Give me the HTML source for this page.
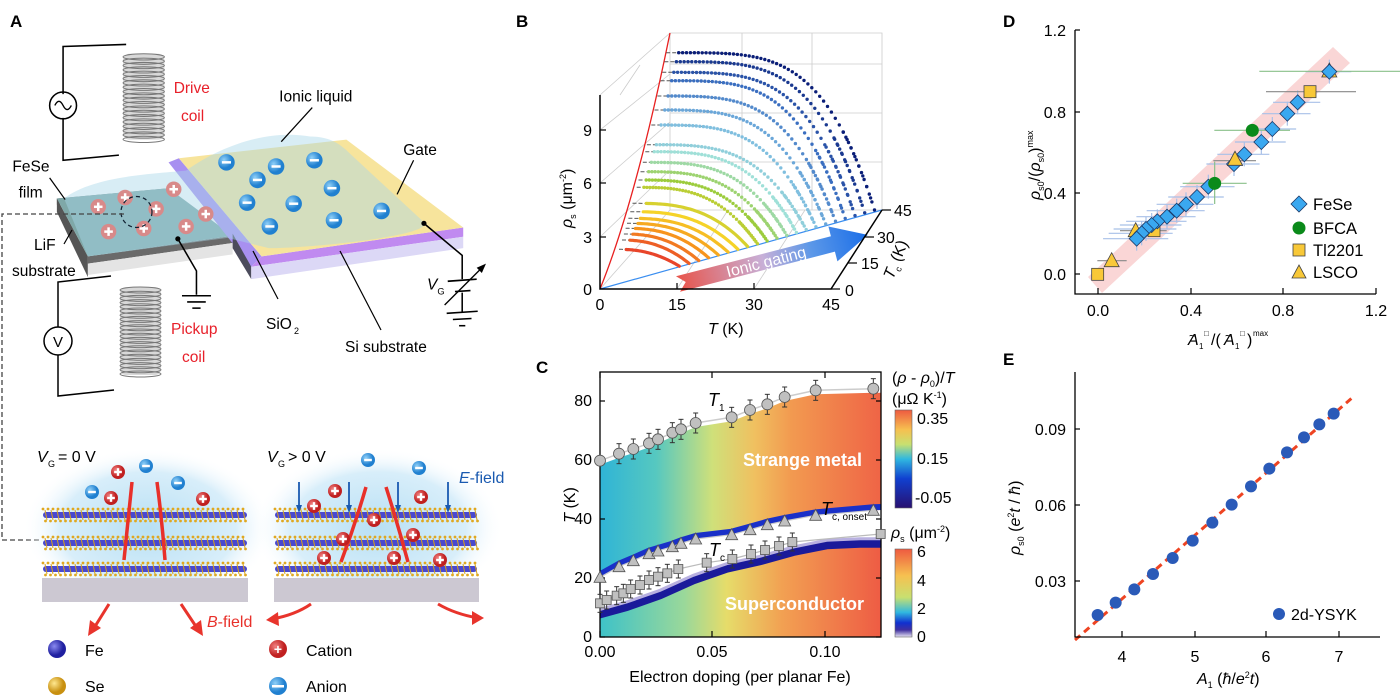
<!DOCTYPE html>
<html><head><meta charset="utf-8">
<style>
html,body{margin:0;padding:0;background:#fff;}
svg{display:block;font-family:"Liberation Sans",Arial,sans-serif;}
</style></head>
<body>
<svg id="s" width="1400" height="700" viewBox="0 0 1400 700" xmlns="http://www.w3.org/2000/svg">
<defs>
<linearGradient id="smg" x1="600" y1="0" x2="881" y2="0" gradientUnits="userSpaceOnUse">
<stop offset="0" stop-color="#2fb4d6"/><stop offset="0.2" stop-color="#56c8c0"/><stop offset="0.4" stop-color="#cfe07a"/><stop offset="0.55" stop-color="#f0c060"/><stop offset="0.68" stop-color="#f29a50"/><stop offset="1" stop-color="#ef6446"/></linearGradient>
<linearGradient id="scg" x1="600" y1="0" x2="881" y2="0" gradientUnits="userSpaceOnUse">
<stop offset="0" stop-color="#3ec2c8"/><stop offset="0.3" stop-color="#9ad89a"/><stop offset="0.45" stop-color="#e6dc6a"/><stop offset="0.65" stop-color="#f2a052"/><stop offset="1" stop-color="#ee5c44"/></linearGradient>
<linearGradient id="cb1" x1="0" y1="0" x2="0" y2="1">
<stop offset="0" stop-color="#ee5a40"/><stop offset="0.2" stop-color="#f6c050"/><stop offset="0.35" stop-color="#c8e070"/><stop offset="0.5" stop-color="#30b8e0"/><stop offset="0.7" stop-color="#1040d0"/><stop offset="1" stop-color="#281070"/></linearGradient>
<linearGradient id="cb2" x1="0" y1="0" x2="0" y2="1">
<stop offset="0" stop-color="#ee5a40"/><stop offset="0.3" stop-color="#f6c050"/><stop offset="0.55" stop-color="#c8e070"/><stop offset="0.72" stop-color="#30b8e0"/><stop offset="0.84" stop-color="#1030d0"/><stop offset="0.92" stop-color="#4030a0"/><stop offset="1" stop-color="#e8e4f4"/></linearGradient>
<linearGradient id="arr" x1="0" y1="0" x2="1" y2="0">
<stop offset="0" stop-color="#e8544a"/><stop offset="0.45" stop-color="#c8b0d8"/><stop offset="0.7" stop-color="#5c98e8"/><stop offset="1" stop-color="#1a6ee8"/></linearGradient>
<radialGradient id="glow"><stop offset="0" stop-color="#b8e0f4"/><stop offset="0.7" stop-color="#d8eefa"/><stop offset="1" stop-color="#ffffff" stop-opacity="0"/></radialGradient>
<radialGradient id="feb" cx="0.35" cy="0.35"><stop offset="0" stop-color="#8a8af0"/><stop offset="1" stop-color="#2020a0"/></radialGradient>
<radialGradient id="seb" cx="0.35" cy="0.35"><stop offset="0" stop-color="#ffe890"/><stop offset="1" stop-color="#c89010"/></radialGradient>
<radialGradient id="catb" cx="0.35" cy="0.35"><stop offset="0" stop-color="#f08080"/><stop offset="1" stop-color="#c02020"/></radialGradient>
<radialGradient id="anb" cx="0.35" cy="0.35"><stop offset="0" stop-color="#90d0f8"/><stop offset="1" stop-color="#2080d0"/></radialGradient>
<clipPath id="cclip"><rect x="600" y="372" width="281" height="265"/></clipPath>
</defs>

<!-- ================= PANEL A ================= -->
<text x="10" y="27" font-size="17" font-weight="bold">A</text>
<g id="atop" transform="scale(1.034)">
  <!-- drive circuit -->
  <polyline points="122,43 61,45 61,91" fill="none" stroke="#000" stroke-width="1.5"/>
  <polyline points="61,114 61,155 115,150" fill="none" stroke="#000" stroke-width="1.5"/>
  <circle cx="61" cy="102" r="13" fill="none" stroke="#000" stroke-width="1.5"/>
  <path d="M53,102 q4,-8 8,0 q4,8 8,0" fill="none" stroke="#000" stroke-width="1.3"/>
  <g id="coil1"></g>
  <text x="168" y="90" font-size="15" fill="#e8202a">Drive</text>
  <text x="175" y="117" font-size="15" fill="#e8202a">coil</text>
  <!-- slabs -->
  <polygon points="55,192 163,182 163,188 55,198" fill="#666"/>
  <polygon points="55,192 85,248 85,268 55,205" fill="#555"/>
  <polygon points="85,248 225,228 225,235 85,255" fill="#6a6a6a"/>
  <polygon points="85,255 225,235 225,246 85,266" fill="#e4e4e4"/>
  <polygon points="55,192 163,182 225,228 85,248" fill="#7fa8a8"/>
  <polygon points="163,157 173,153 253,248 243,258" fill="#a890f0"/>
  <polygon points="225,226 243,258 243,270 225,240" fill="#4c4c5c"/>
  <polygon points="243,258 253,248 448,220 448,229" fill="#c08af0"/>
  <polygon points="243,258 448,229 448,240 243,270" fill="#dcd8f6"/>
  <polygon points="173,153 335,135 448,220 253,248" fill="#f7e49c"/>
  <path d="M62,192 C90,170 150,168 180,165 C215,140 260,125 300,132 C320,132 330,140 340,150 L410,215 C420,228 300,240 260,240 L220,230 L85,248 Z" fill="#a8d8e8" opacity="0.45"/>
  <g id="ionsTop"></g>
  <!-- labels -->
  <text x="270" y="98" font-size="15">Ionic liquid</text>
  <line x1="302" y1="104" x2="272" y2="137" stroke="#000" stroke-width="1.2"/>
  <text x="390" y="150" font-size="15">Gate</text>
  <line x1="400" y1="155" x2="384" y2="188" stroke="#000" stroke-width="1.2"/>
  <text x="12" y="166" font-size="15">FeSe</text>
  <text x="18" y="191" font-size="15">film</text>
  <line x1="48" y1="172" x2="63" y2="193" stroke="#000" stroke-width="1.2"/>
  <circle cx="172" cy="231" r="2.5"/>
  <polyline points="172,231 190,262 190,285" fill="none" stroke="#000" stroke-width="1.5"/>
  <line x1="176" y1="286" x2="204" y2="286" stroke="#000" stroke-width="1.5"/>
  <line x1="181" y1="292" x2="199" y2="292" stroke="#000" stroke-width="1.5"/>
  <line x1="186" y1="298" x2="194" y2="298" stroke="#000" stroke-width="1.5"/>
  <circle cx="410" cy="216" r="2.5"/>
  <polyline points="410,216 447,247 447,270" fill="none" stroke="#000" stroke-width="1.5"/>
  <line x1="433" y1="272" x2="461" y2="270" stroke="#000" stroke-width="1.6"/>
  <line x1="440" y1="282" x2="455" y2="281" stroke="#000" stroke-width="1.6"/>
  <line x1="447" y1="283" x2="447" y2="302" stroke="#000" stroke-width="1.5"/>
  <line x1="432" y1="303" x2="462" y2="301" stroke="#000" stroke-width="1.5"/>
  <line x1="438" y1="309" x2="456" y2="308" stroke="#000" stroke-width="1.5"/>
  <line x1="444" y1="315" x2="450" y2="315" stroke="#000" stroke-width="1.5"/>
  <line x1="430" y1="295" x2="468" y2="257" stroke="#000" stroke-width="1.3"/>
  <polygon points="470,255 461,259 466,264" fill="#000"/>
  <text x="413" y="280" font-size="15" font-style="italic">V</text><text x="423" y="285" font-size="9">G</text>
</g>
<text x="34" y="250" font-size="15.5">LiF</text>
<line x1="64" y1="244" x2="72" y2="230" stroke="#000" stroke-width="1.2"/>
<text x="12" y="276" font-size="15.5">substrate</text>
<!-- pickup circuit -->
<polyline points="111,276 58,282 58,327" fill="none" stroke="#000" stroke-width="1.5"/>
<polyline points="58,355 58,396 114,390" fill="none" stroke="#000" stroke-width="1.5"/>
<circle cx="58" cy="341" r="14" fill="none" stroke="#000" stroke-width="1.5"/>
<text x="58" y="347" font-size="15" text-anchor="middle">V</text>
<g id="coil2"></g>
<text x="171" y="334" font-size="15.5" fill="#e8202a">Pickup</text>
<text x="182" y="362" font-size="15.5" fill="#e8202a">coil</text>
<text x="266" y="329" font-size="15.5">SiO</text><text x="294" y="334" font-size="9">2</text>
<line x1="253" y1="251" x2="278" y2="299" stroke="#000" stroke-width="1.2"/>
<text x="345" y="352" font-size="15.5">Si substrate</text>
<line x1="340" y1="251" x2="381" y2="330" stroke="#000" stroke-width="1.2"/>
<!-- dashed connector -->
<polyline points="124,214 2,214 2,540 42,540" fill="none" stroke="#444" stroke-width="1.3" stroke-dasharray="5,3"/>

<!-- bottom crystals -->
<ellipse cx="148" cy="528" rx="125" ry="80" fill="url(#glow)"/>
<ellipse cx="378" cy="528" rx="125" ry="80" fill="url(#glow)"/>
<rect x="42" y="578" width="206" height="24" fill="#ccc8d2"/>
<rect x="274" y="578" width="205" height="24" fill="#ccc8d2"/>
<g id="crys"></g>
<text x="37" y="462" font-size="16" font-style="italic">V</text><text x="48" y="467" font-size="9">G</text><text x="58" y="462" font-size="16"> = 0 V</text>
<text x="267" y="462" font-size="16" font-style="italic">V</text><text x="278" y="467" font-size="9">G</text><text x="288" y="462" font-size="16"> &gt; 0 V</text>
<text x="459" y="483" font-size="16" fill="#1a5ab0"><tspan font-style="italic">E</tspan>-field</text>
<text x="207" y="627" font-size="16" fill="#e8302a"><tspan font-style="italic">B</tspan>-field</text>
<g id="ionsBot"></g>
<g stroke="#e8342c" stroke-width="3" fill="none">
 <path d="M109,604 L94,628"/><path d="M181,604 L197,628"/>
 <path d="M311,604 Q295,615 272,619"/><path d="M438,604 Q455,614 478,618"/>
</g>
<g fill="#e8342c">
 <polygon points="88,636 90,620 101,628"/><polygon points="203,636 190,628 201,620"/>
 <polygon points="266,620 278,612 279,626"/><polygon points="484,618 472,611 472,625"/>
</g>
<circle cx="57" cy="649" r="9" fill="url(#feb)"/><text x="85" y="656" font-size="16">Fe</text>
<circle cx="57" cy="686" r="9" fill="url(#seb)"/><text x="85" y="692" font-size="16">Se</text>
<circle cx="278" cy="649" r="9" fill="url(#catb)"/><text x="278" y="654" font-size="14" fill="#fff" text-anchor="middle" font-weight="bold">+</text><text x="306" y="656" font-size="16">Cation</text>
<circle cx="278" cy="686" r="9" fill="url(#anb)"/><rect x="272" y="685" width="12" height="2.5" fill="#fff"/><text x="306" y="692" font-size="16">Anion</text>

<!-- ================= PANEL B ================= -->
<text x="516" y="27" font-size="17" font-weight="bold">B</text>
<g stroke="#ccc" stroke-width="0.8" fill="none">
 <polyline points="600,95 670,33 882,33 882,210"/>
 <line x1="670" y1="33" x2="670" y2="210"/>
 <line x1="742" y1="33" x2="742" y2="210"/><line x1="812" y1="33" x2="812" y2="210"/>
 <line x1="670" y1="64" x2="882" y2="64"/><line x1="670" y1="113" x2="882" y2="113"/><line x1="670" y1="162" x2="882" y2="162"/>
 <line x1="600" y1="130" x2="670" y2="74"/><line x1="600" y1="183" x2="670" y2="122"/><line x1="600" y1="237" x2="670" y2="170"/>
 <line x1="600" y1="289" x2="670" y2="210"/><line x1="670" y1="210" x2="882" y2="210"/>
 <line x1="677" y1="289" x2="728" y2="210"/><line x1="754" y1="289" x2="805" y2="210"/>
 <line x1="620" y1="95" x2="640" y2="65"/>
</g>
<path d="M600,289 Q636,200 670,33" fill="none" stroke="#e82020" stroke-width="1.3"/>
<line x1="600" y1="289" x2="882" y2="210" stroke="#3a8ef0" stroke-width="1.2"/>
<g id="bcurves"></g>
<g transform="translate(678,284) rotate(-14.5)">
 <polygon points="0,-8 160,-8 160,-18 196,0 160,18 160,8 0,8 8,0" fill="url(#arr)"/>
 <text x="50" y="6" font-size="16" fill="#fff">Ionic gating</text>
</g>
<g stroke="#000" stroke-width="1.5" fill="none">
 <polyline points="600,95 600,289 831,289 882,210"/>
</g>
<g stroke="#000" stroke-width="1.2">
 <line x1="600" y1="237" x2="606" y2="237"/><line x1="600" y1="183" x2="606" y2="183"/><line x1="600" y1="130" x2="606" y2="130"/>
 <line x1="677" y1="289" x2="677" y2="283"/><line x1="754" y1="289" x2="754" y2="283"/>
 <line x1="831" y1="289" x2="840" y2="289"/><line x1="848" y1="263" x2="857" y2="263"/><line x1="865" y1="237" x2="874" y2="237"/><line x1="882" y1="210" x2="891" y2="210"/>
</g>
<g font-size="16">
 <text x="592" y="295" text-anchor="end">0</text><text x="592" y="243" text-anchor="end">3</text><text x="592" y="189" text-anchor="end">6</text><text x="592" y="136" text-anchor="end">9</text>
 <text x="600" y="310" text-anchor="middle">0</text><text x="677" y="310" text-anchor="middle">15</text><text x="754" y="310" text-anchor="middle">30</text><text x="831" y="310" text-anchor="middle">45</text>
 <text x="845" y="296">0</text><text x="861" y="269">15</text><text x="877" y="243">30</text><text x="894" y="216">45</text>
 <text x="708" y="334"><tspan font-style="italic">T</tspan> (K)</text>
</g>
<text transform="translate(572,228) rotate(-90)" font-size="16"><tspan font-style="italic">ρ</tspan><tspan font-size="9" dy="4">s</tspan><tspan dy="-4"> (μm</tspan><tspan font-size="9" dy="-6">-2</tspan><tspan dy="6">)</tspan></text>
<text transform="translate(893,280) rotate(-68)" font-size="16"><tspan font-style="italic">T</tspan><tspan font-size="9" dy="4">c</tspan><tspan dy="-4"> (K)</tspan></text>

<!-- ================= PANEL C ================= -->
<text x="536" y="373" font-size="17" font-weight="bold">C</text>
<g clip-path="url(#cclip)">
 <path id="smpath" fill="url(#smg)"/>
 <path id="scpath" fill="url(#scg)"/>
 <path id="onsetBand" fill="none" stroke="#1a30c8" stroke-width="6"/>
 <path id="scBand" fill="none" stroke="#1a1a9a" stroke-width="8"/>
 <path id="scBand2" fill="none" stroke="#b8b0e0" stroke-width="3"/>
</g>
<rect x="600" y="372" width="281" height="265" fill="none" stroke="#000" stroke-width="1.3"/>
<g id="cticks" stroke="#000" stroke-width="1.2"></g>
<g id="cpts"></g>
<g font-size="16">
 <text x="592" y="642" text-anchor="end">0</text><text x="592" y="583" text-anchor="end">20</text><text x="592" y="524" text-anchor="end">40</text><text x="592" y="465" text-anchor="end">60</text><text x="592" y="406" text-anchor="end">80</text>
 <text x="600" y="657" text-anchor="middle">0.00</text><text x="712" y="657" text-anchor="middle">0.05</text><text x="825" y="657" text-anchor="middle">0.10</text>
 <text x="740" y="682" text-anchor="middle">Electron doping (per planar Fe)</text>
</g>
<text transform="translate(575,505) rotate(-90)" font-size="16" text-anchor="middle"><tspan font-style="italic">T</tspan> (K)</text>
<text x="743" y="466" font-size="18" font-weight="bold" fill="#fff">Strange metal</text>
<text x="725" y="610" font-size="18" font-weight="bold" fill="#fff">Superconductor</text>
<text x="708" y="406" font-size="18" font-style="italic">T<tspan font-size="10" dy="5" font-style="normal">1</tspan></text>
<text x="821" y="515" font-size="18" font-style="italic">T<tspan font-size="10" dy="5" font-style="normal">c, onset</tspan></text>
<text x="709" y="556" font-size="18" font-style="italic">T<tspan font-size="10" dy="5" font-style="normal">c</tspan></text>
<rect x="895" y="410" width="17" height="98" fill="url(#cb1)" stroke="#666" stroke-width="0.6"/>
<rect x="895" y="549" width="17" height="88" fill="url(#cb2)" stroke="#666" stroke-width="0.6"/>
<g font-size="16">
 <text x="892" y="383">(<tspan font-style="italic">ρ</tspan> - <tspan font-style="italic">ρ</tspan><tspan font-size="9" dy="4">0</tspan><tspan dy="-4">)/</tspan><tspan font-style="italic">T</tspan></text>
 <text x="892" y="404">(μΩ K<tspan font-size="9" dy="-6">-1</tspan><tspan dy="6">)</tspan></text>
 <text x="917" y="424">0.35</text><text x="917" y="464">0.15</text><text x="915" y="503">-0.05</text>
 <text x="891" y="538"><tspan font-style="italic">ρ</tspan><tspan font-size="9" dy="4">s</tspan><tspan dy="-4"> (μm</tspan><tspan font-size="9" dy="-6">-2</tspan><tspan dy="6">)</tspan></text>
 <text x="917" y="557">6</text><text x="917" y="586">4</text><text x="917" y="614">2</text><text x="917" y="642">0</text>
</g>

<!-- ================= PANEL D ================= -->
<text x="1003" y="27" font-size="17" font-weight="bold">D</text>
<polygon points="1088,277 1333,47 1350,63 1102,293" fill="#f9cccc" opacity="0.8"/>
<g id="dpts"></g>
<polyline points="1075,30 1075,294 1376,294" fill="none" stroke="#000" stroke-width="1.3"/>
<g stroke="#000" stroke-width="1.2">
 <line x1="1075" y1="30" x2="1080" y2="30"/><line x1="1075" y1="112" x2="1080" y2="112"/><line x1="1075" y1="193" x2="1080" y2="193"/><line x1="1075" y1="274" x2="1080" y2="274"/>
 <line x1="1098" y1="294" x2="1098" y2="288"/><line x1="1191" y1="294" x2="1191" y2="288"/><line x1="1283" y1="294" x2="1283" y2="288"/><line x1="1376" y1="294" x2="1376" y2="288"/>
</g>
<g font-size="16">
 <text x="1066" y="36" text-anchor="end">1.2</text><text x="1066" y="118" text-anchor="end">0.8</text><text x="1066" y="199" text-anchor="end">0.4</text><text x="1066" y="280" text-anchor="end">0.0</text>
 <text x="1098" y="316" text-anchor="middle">0.0</text><text x="1191" y="316" text-anchor="middle">0.4</text><text x="1283" y="316" text-anchor="middle">0.8</text><text x="1376" y="316" text-anchor="middle">1.2</text>
 <text x="1188" y="345" font-style="italic">A</text><text x="1189" y="340" font-size="12">~</text><text x="1199" y="349" font-size="8">1</text><text x="1204" y="336" font-size="8">□</text><text x="1211" y="345">/(</text><text x="1224" y="345" font-style="italic">A</text><text x="1225" y="340" font-size="12">~</text><text x="1235" y="349" font-size="8">1</text><text x="1240" y="336" font-size="8">□</text><text x="1247" y="345">)</text><text x="1253" y="336" font-size="8">max</text>
</g>
<text transform="translate(1040,200) rotate(-90)" font-size="16"><tspan font-style="italic">ρ</tspan><tspan font-size="9" dy="4">s0</tspan><tspan dy="-4">/(</tspan><tspan font-style="italic">ρ</tspan><tspan font-size="9" dy="4">s0</tspan><tspan dy="-4">)</tspan><tspan font-size="9" dy="-7">max</tspan></text>
<g font-size="16.5">
 <polygon points="1299,196 1307,204 1299,212 1291,204" fill="#3aa8f0" stroke="#1a3a6a" stroke-width="0.8"/><text x="1313" y="210">FeSe</text>
 <circle cx="1299" cy="228" r="6.5" fill="#0a8a1a"/><text x="1313" y="234">BFCA</text>
 <rect x="1293" y="244" width="12" height="12" fill="#f8c838" stroke="#444" stroke-width="0.8"/><text x="1313" y="256">Tl2201</text>
 <polygon points="1299,265 1306,278 1292,278" fill="#f8c838" stroke="#444" stroke-width="0.8"/><text x="1313" y="278">LSCO</text>
</g>

<!-- ================= PANEL E ================= -->
<text x="1003" y="365" font-size="17" font-weight="bold">E</text>
<line x1="1075" y1="640" x2="1353" y2="397" stroke="#ee4422" stroke-width="3" stroke-dasharray="7,5"/>
<g id="epts"></g>
<polyline points="1075,372 1075,637 1380,637" fill="none" stroke="#000" stroke-width="1.3"/>
<g stroke="#000" stroke-width="1.2">
 <line x1="1075" y1="429" x2="1080" y2="429"/><line x1="1075" y1="505" x2="1080" y2="505"/><line x1="1075" y1="581" x2="1080" y2="581"/>
 <line x1="1122" y1="637" x2="1122" y2="631"/><line x1="1195" y1="637" x2="1195" y2="631"/><line x1="1266" y1="637" x2="1266" y2="631"/><line x1="1339" y1="637" x2="1339" y2="631"/>
</g>
<g font-size="16">
 <text x="1066" y="435" text-anchor="end">0.09</text><text x="1066" y="511" text-anchor="end">0.06</text><text x="1066" y="587" text-anchor="end">0.03</text>
 <text x="1122" y="662" text-anchor="middle">4</text><text x="1195" y="662" text-anchor="middle">5</text><text x="1266" y="662" text-anchor="middle">6</text><text x="1339" y="662" text-anchor="middle">7</text>
 <text x="1197" y="684"><tspan font-style="italic">A</tspan><tspan font-size="9" dy="4">1</tspan><tspan dy="-4"> (</tspan><tspan font-style="italic">ħ</tspan>/<tspan font-style="italic">e</tspan><tspan font-size="9" dy="-6">2</tspan><tspan dy="6" font-style="italic">t</tspan>)</text>
 <circle cx="1279" cy="614" r="6" fill="#2a5ab8"/><text x="1291" y="620">2d-YSYK</text>
</g>
<text transform="translate(1020,555) rotate(-90)" font-size="16"><tspan font-style="italic">ρ</tspan><tspan font-size="9" dy="4">s0</tspan><tspan dy="-4"> (</tspan><tspan font-style="italic">e</tspan><tspan font-size="9" dy="-6">2</tspan><tspan dy="6" font-style="italic">t</tspan> / <tspan font-style="italic">ħ</tspan>)</text>
</svg>

<script>
(function(){
var NS="http://www.w3.org/2000/svg";
function el(t,a,p){var e=document.createElementNS(NS,t);for(var k in a)e.setAttribute(k,a[k]);(p||document.getElementById('s')).appendChild(e);return e;}
function G(id){return document.getElementById(id);}

// coils
function coil(g,x1,x2,y1,y2){
  el('rect',{x:x1,y:y1,width:x2-x1,height:y2-y1,rx:6,fill:'#d8d8d8'},g);
  for(var y=y1+3;y<y2;y+=4.2){el('ellipse',{cx:(x1+x2)/2,cy:y,rx:(x2-x1)/2,ry:3,fill:'none',stroke:'#777','stroke-width':1},g);}
}
coil(G('coil1'),119,159,52,135);
coil(G('coil2'),120,161,287,375);

// top ions
function ion(g,x,y,r,pos,fill,op){
  el('circle',{cx:x,cy:y,r:r,fill:fill,opacity:op||1},g);
  el('rect',{x:x-r*0.55,y:y-1.2,width:r*1.1,height:2.4,fill:'#fff'},g);
  if(pos) el('rect',{x:x-1.2,y:y-r*0.55,width:2.4,height:r*1.1,fill:'#fff'},g);
}
var gt=G('ionsTop');
[[219,157],[267,161],[304,155],[249,174],[321,182],[239,196],[284,197],[261,219],[323,213],[369,204]].forEach(function(p){ion(gt,p[0],p[1],8,false,'url(#anb)');});
[[95,200],[121,191],[151,202],[105,224],[139,221],[168,183],[180,219],[199,207]].forEach(function(p){ion(gt,p[0],p[1],7.5,true,'#d88a8a');});
el('circle',{cx:132,cy:205,r:15,fill:'none',stroke:'#123','stroke-width':1.2,'stroke-dasharray':'4,3'},gt);

// crystals
var gc=G('crys');
[[43,247],[275,477]].forEach(function(r){
  [515,543,569].forEach(function(y,li){
    for(var x=r[0];x<r[1];x+=5){
      el('circle',{cx:x,cy:y-6,r:1.4,fill:'#e0a820'},gc);
      el('circle',{cx:x+2.5,cy:y+6,r:1.4,fill:'#e0a820'},gc);
    }
    el('rect',{x:r[0],y:y-3,width:r[1]-r[0],height:6,fill:'#4848d0',rx:3},gc);
    for(var x=r[0]+2;x<r[1];x+=6){
      el('line',{x1:x,y1:y-5,x2:x+2,y2:y+5,stroke:'#d4a020','stroke-width':1},gc);
    }
  });
});
// field lines & ions bottom
var gb=G('ionsBot');
[['M132,482 Q128,520 124,560'],['M157,482 Q162,520 165,560'],['M366,487 Q355,525 341,562'],['M386,487 Q398,525 408,562']].forEach(function(d){el('path',{d:d[0],stroke:'#e8302a','stroke-width':3.5,fill:'none'},gb);});
[[299,'#1a5ab0'],[349],[398],[448]].forEach(function(p){
  var x=p[0];el('line',{x1:x,y1:482,x2:x,y2:507,stroke:'#1a5ab0','stroke-width':1.8},gb);
  el('polygon',{points:(x-3)+',505 '+(x+3)+',505 '+x+',513',fill:'#1a5ab0'},gb);
});
[[146,466],[92,492],[178,483],[368,460],[419,468]].forEach(function(p){ion(gb,p[0],p[1],7,false,'url(#anb)');});
[[118,472],[111,498],[203,499],[335,491],[314,506],[421,497],[374,520],[343,539],[413,535],[324,558],[394,558],[440,560]].forEach(function(p){ion(gb,p[0],p[1],7,true,'url(#catb)');});

// Panel B curves
var ys=[128,155,187,212,258,300,345,404,425,457,485,510,532,580,605,625,640,655,672,690,718];
var stops=[[0,[232,69,42]],[0.15,[247,148,29]],[0.3,[245,211,40]],[0.45,[156,204,60]],[0.6,[159,224,216]],[0.72,[122,184,224]],[0.85,[58,110,192]],[1,[10,30,120]]];
function cmap(t){for(var i=1;i<stops.length;i++){if(t<=stops[i][0]){var a=stops[i-1],b=stops[i],f=(t-a[0])/(b[0]-a[0]);var c=a[1].map(function(v,k){return Math.round(v+(b[1][k]-v)*f);});return 'rgb('+c.join(',')+')';}}return 'rgb(10,30,120)';}
var gB=G('bcurves');
var N=ys.length;
for(var j=N-1;j>=0;j--){
  var t=1-j/(N-1);
  var Tc=13+32*t;
  var xe=600+6.1*Tc, ye=289-1.756*Tc;
  var y0=10+ys[j]/3;
  var s=(289-y0)/256; var x0=600+70*Math.pow(s,0.7);
  var p=2.2+2*t;
  var col=cmap(t);
  function pt(u){return [x0+(xe-x0)*u, y0+(ye-y0)*Math.pow(u,p)];}
  // dashed gray
  var d='';for(var u=0;u<=0.35;u+=0.02){var q=pt(u);d+=(u==0?'M':'L')+q[0].toFixed(1)+','+q[1].toFixed(1);}
  el('path',{d:d,stroke:'#555','stroke-width':1,'stroke-dasharray':'4,2',fill:'none'},gB);
  if(j>=13){
    var d2='';for(var u=0.12;u<=1.0001;u+=0.02){var q=pt(u);d2+=(u<0.13?'M':'L')+q[0].toFixed(1)+','+q[1].toFixed(1);}
    el('path',{d:d2,stroke:col,'stroke-width':3.2,fill:'none','stroke-linecap':'round'},gB);
  } else {
    var n=Math.round(30+20*t);
    for(var k=0;k<=n;k++){var u=0.06+0.94*k/n;var q=pt(u);el('circle',{cx:q[0].toFixed(1),cy:q[1].toFixed(1),r:1.7,fill:col},gB);}
    // denser at end
    for(var k=0;k<12;k++){var u=0.85+0.15*k/12;var q=pt(u);el('circle',{cx:q[0].toFixed(1),cy:q[1].toFixed(1),r:1.7,fill:col},gB);}
  }
}

// Panel C
function cx(v){return 560+v/3;} function cy(v){return 360+v/3;}
var circ=[[120,302],[177,281],[220,267],[267,250],[294,238],[337,218],[363,208],[407,189],[515,172],[570,150],[622,133],[674,111],[767,91],[940,86]];
var tri=[[120,652],[177,620],[220,602],[267,581],[294,573],[337,560],[363,550],[407,537],[515,524],[570,509],[622,494],[674,483],[767,466],[940,451]];
var sq=[[120,730],[140,720],[170,707],[190,700],[212,687],[240,675],[267,660],[294,650],[322,640],[355,627],[440,608],[517,597],[573,582],[615,570],[657,558],[697,546],[962,522]];
function line(arr,dy){return arr.map(function(p,i){return (i?'L':'M')+cx(p[0]).toFixed(1)+','+(cy(p[1])+dy).toFixed(1);}).join('');}
var top=circ.slice();top.push([965,86]);
var on=tri.slice();on.unshift([110,662]);on.push([965,450]);
var smd=line(top,4)+'L'+cx(965)+','+(cy(450)+0)+line(on.slice().reverse(),0).replace(/^M/,'L')+'Z';
G('smpath').setAttribute('d',smd);
G('onsetBand').setAttribute('d',line(on,-3));
var sce=[[110,760],[200,735],[300,700],[400,655],[500,620],[600,598],[700,570],[800,550],[900,545],[970,545]];
G('scpath').setAttribute('d',line(sce,0)+'L881,640L600,640Z');
G('scBand').setAttribute('d',line(sce,2));
G('scBand2').setAttribute('d',line(sce,-3));
el('path',{d:line(circ,0),stroke:'#ccc','stroke-width':1.5,fill:'none'},G('cpts'));
el('path',{d:line(tri,0),stroke:'#ccc','stroke-width':1.2,fill:'none'},G('cpts'));
el('path',{d:line(sq,0),stroke:'#bbb','stroke-width':1.2,fill:'none'},G('cpts'));
var gcp=G('cpts');
circ.forEach(function(p,i){var x=cx(p[0]),y=cy(p[1]);if(i>0){el('line',{x1:x,y1:y-10,x2:x,y2:y+10,stroke:'#333','stroke-width':1},gcp);el('line',{x1:x-2.5,y1:y-10,x2:x+2.5,y2:y-10,stroke:'#333'},gcp);el('line',{x1:x-2.5,y1:y+10,x2:x+2.5,y2:y+10,stroke:'#333'},gcp);}
 el('circle',{cx:x,cy:y,r:5.5,fill:'#c0c0c0',stroke:'#555','stroke-width':0.8},gcp);});
tri.forEach(function(p){var x=cx(p[0]),y=cy(p[1]);el('polygon',{points:(x-6)+','+(y+5)+' '+(x+6)+','+(y+5)+' '+x+','+(y-6),fill:'#c0c0c0',stroke:'#555','stroke-width':0.8},gcp);});
sq.forEach(function(p,i){var x=cx(p[0]),y=cy(p[1]);if(i<16){el('line',{x1:x,y1:y-9,x2:x,y2:y+9,stroke:'#333','stroke-width':1},gcp);el('line',{x1:x-2.5,y1:y-9,x2:x+2.5,y2:y-9,stroke:'#333'},gcp);el('line',{x1:x-2.5,y1:y+9,x2:x+2.5,y2:y+9,stroke:'#333'},gcp);}
 el('rect',{x:x-4.5,y:y-4.5,width:9,height:9,fill:'#c0c0c0',stroke:'#555','stroke-width':0.8},gcp);});
var ct=G('cticks');
[637,578,519,460,401].forEach(function(y){el('line',{x1:600,y1:y,x2:605,y2:y},ct);el('line',{x1:876,y1:y,x2:881,y2:y},ct);});
[600,712,825].forEach(function(x){el('line',{x1:x,y1:637,x2:x,y2:631},ct);el('line',{x1:x,y1:372,x2:x,y2:378},ct);});

// Panel D
function dx(v){return 960+v/3;} function dy(v){return 10+v/3;}
var gd=G('dpts');
var fese=[[1108,185],[1013,277],[982,311],[937,357],[904,396],[853,433],[822,462],[745,530],[711,561],[678,583],[650,602],[621,620],[592,634],[575,645],[558,657],[545,670],[530,686]];
fese.forEach(function(p,i){var x=dx(p[0]),y=dy(p[1]);var h=14+i*0.6,v=8;
 el('line',{x1:x-h-10,y1:y,x2:x+h+8,y2:y,stroke:'#a8c0e8','stroke-width':1.2},gd);
 el('line',{x1:x,y1:y-v-4,x2:x,y2:y+v+4,stroke:'#a8c0e8','stroke-width':1.2},gd);});
el('line',{x1:dx(898),y1:dy(184),x2:1400,y2:dy(184),stroke:'#8ac08a','stroke-width':1.2},gd);
el('line',{x1:dx(763),y1:dy(361),x2:dx(990),y2:dy(361),stroke:'#8ac08a','stroke-width':1.2},gd);
el('line',{x1:dx(668),y1:dy(520),x2:dx(860),y2:dy(520),stroke:'#8ac08a','stroke-width':1.2},gd);
el('line',{x1:dx(764),y1:dy(455),x2:dx(764),y2:dy(582),stroke:'#8ac08a','stroke-width':1.2},gd);
el('line',{x1:dx(918),y1:dy(245),x2:dx(1188),y2:dy(245),stroke:'#888','stroke-width':1.2},gd);
el('line',{x1:dx(412),y1:dy(752),x2:dx(500),y2:dy(752),stroke:'#888','stroke-width':1.2},gd);
el('line',{x1:dx(480),y1:dy(662),x2:dx(620),y2:dy(662),stroke:'#888','stroke-width':1.2},gd);
el('line',{x1:dx(760),y1:dy(452),x2:dx(888),y2:dy(452),stroke:'#888','stroke-width':1.2},gd);
function dia(x,y){el('polygon',{points:x+','+(y-7.5)+' '+(x+7.5)+','+y+' '+x+','+(y+7.5)+' '+(x-7.5)+','+y,fill:'#3aa8f0',stroke:'#1a3a6a','stroke-width':0.8},gd);}
function sqr(x,y){el('rect',{x:x-6,y:y-6,width:12,height:12,fill:'#f8c838',stroke:'#444','stroke-width':0.8},gd);}
function trg(x,y){el('polygon',{points:x+','+(y-8)+' '+(x+7.5)+','+(y+6)+' '+(x-7.5)+','+(y+6),fill:'#f8c838',stroke:'#444','stroke-width':0.8},gd);}
[[1050,245],[582,662],[413,793]].forEach(function(p){sqr(dx(p[0]),dy(p[1]));});
[[455,752],[527,662],[825,448]].forEach(function(p){trg(dx(p[0]),dy(p[1]));});
trg(dx(1108),dy(183));
fese.forEach(function(p){dia(dx(p[0]),dy(p[1]));});
[[877,361],[764,520]].forEach(function(p){el('circle',{cx:dx(p[0]),cy:dy(p[1]),r:6.5,fill:'#0a8a1a'},gd);});
trg(dx(825),dy(448));

// Panel E
var ge=G('epts');
[[443,1095],[497,1058],[553,1018],[609,972],[668,924],[728,872],[787,818],[845,764],[903,709],[958,656],[1011,607],[1062,562],[1108,523],[1151,491]].forEach(function(p){
 el('circle',{cx:950+p[0]/3,cy:250+p[1]/3,r:6,fill:'#2a5ab8'},ge);});
})();
</script>
</body></html>
